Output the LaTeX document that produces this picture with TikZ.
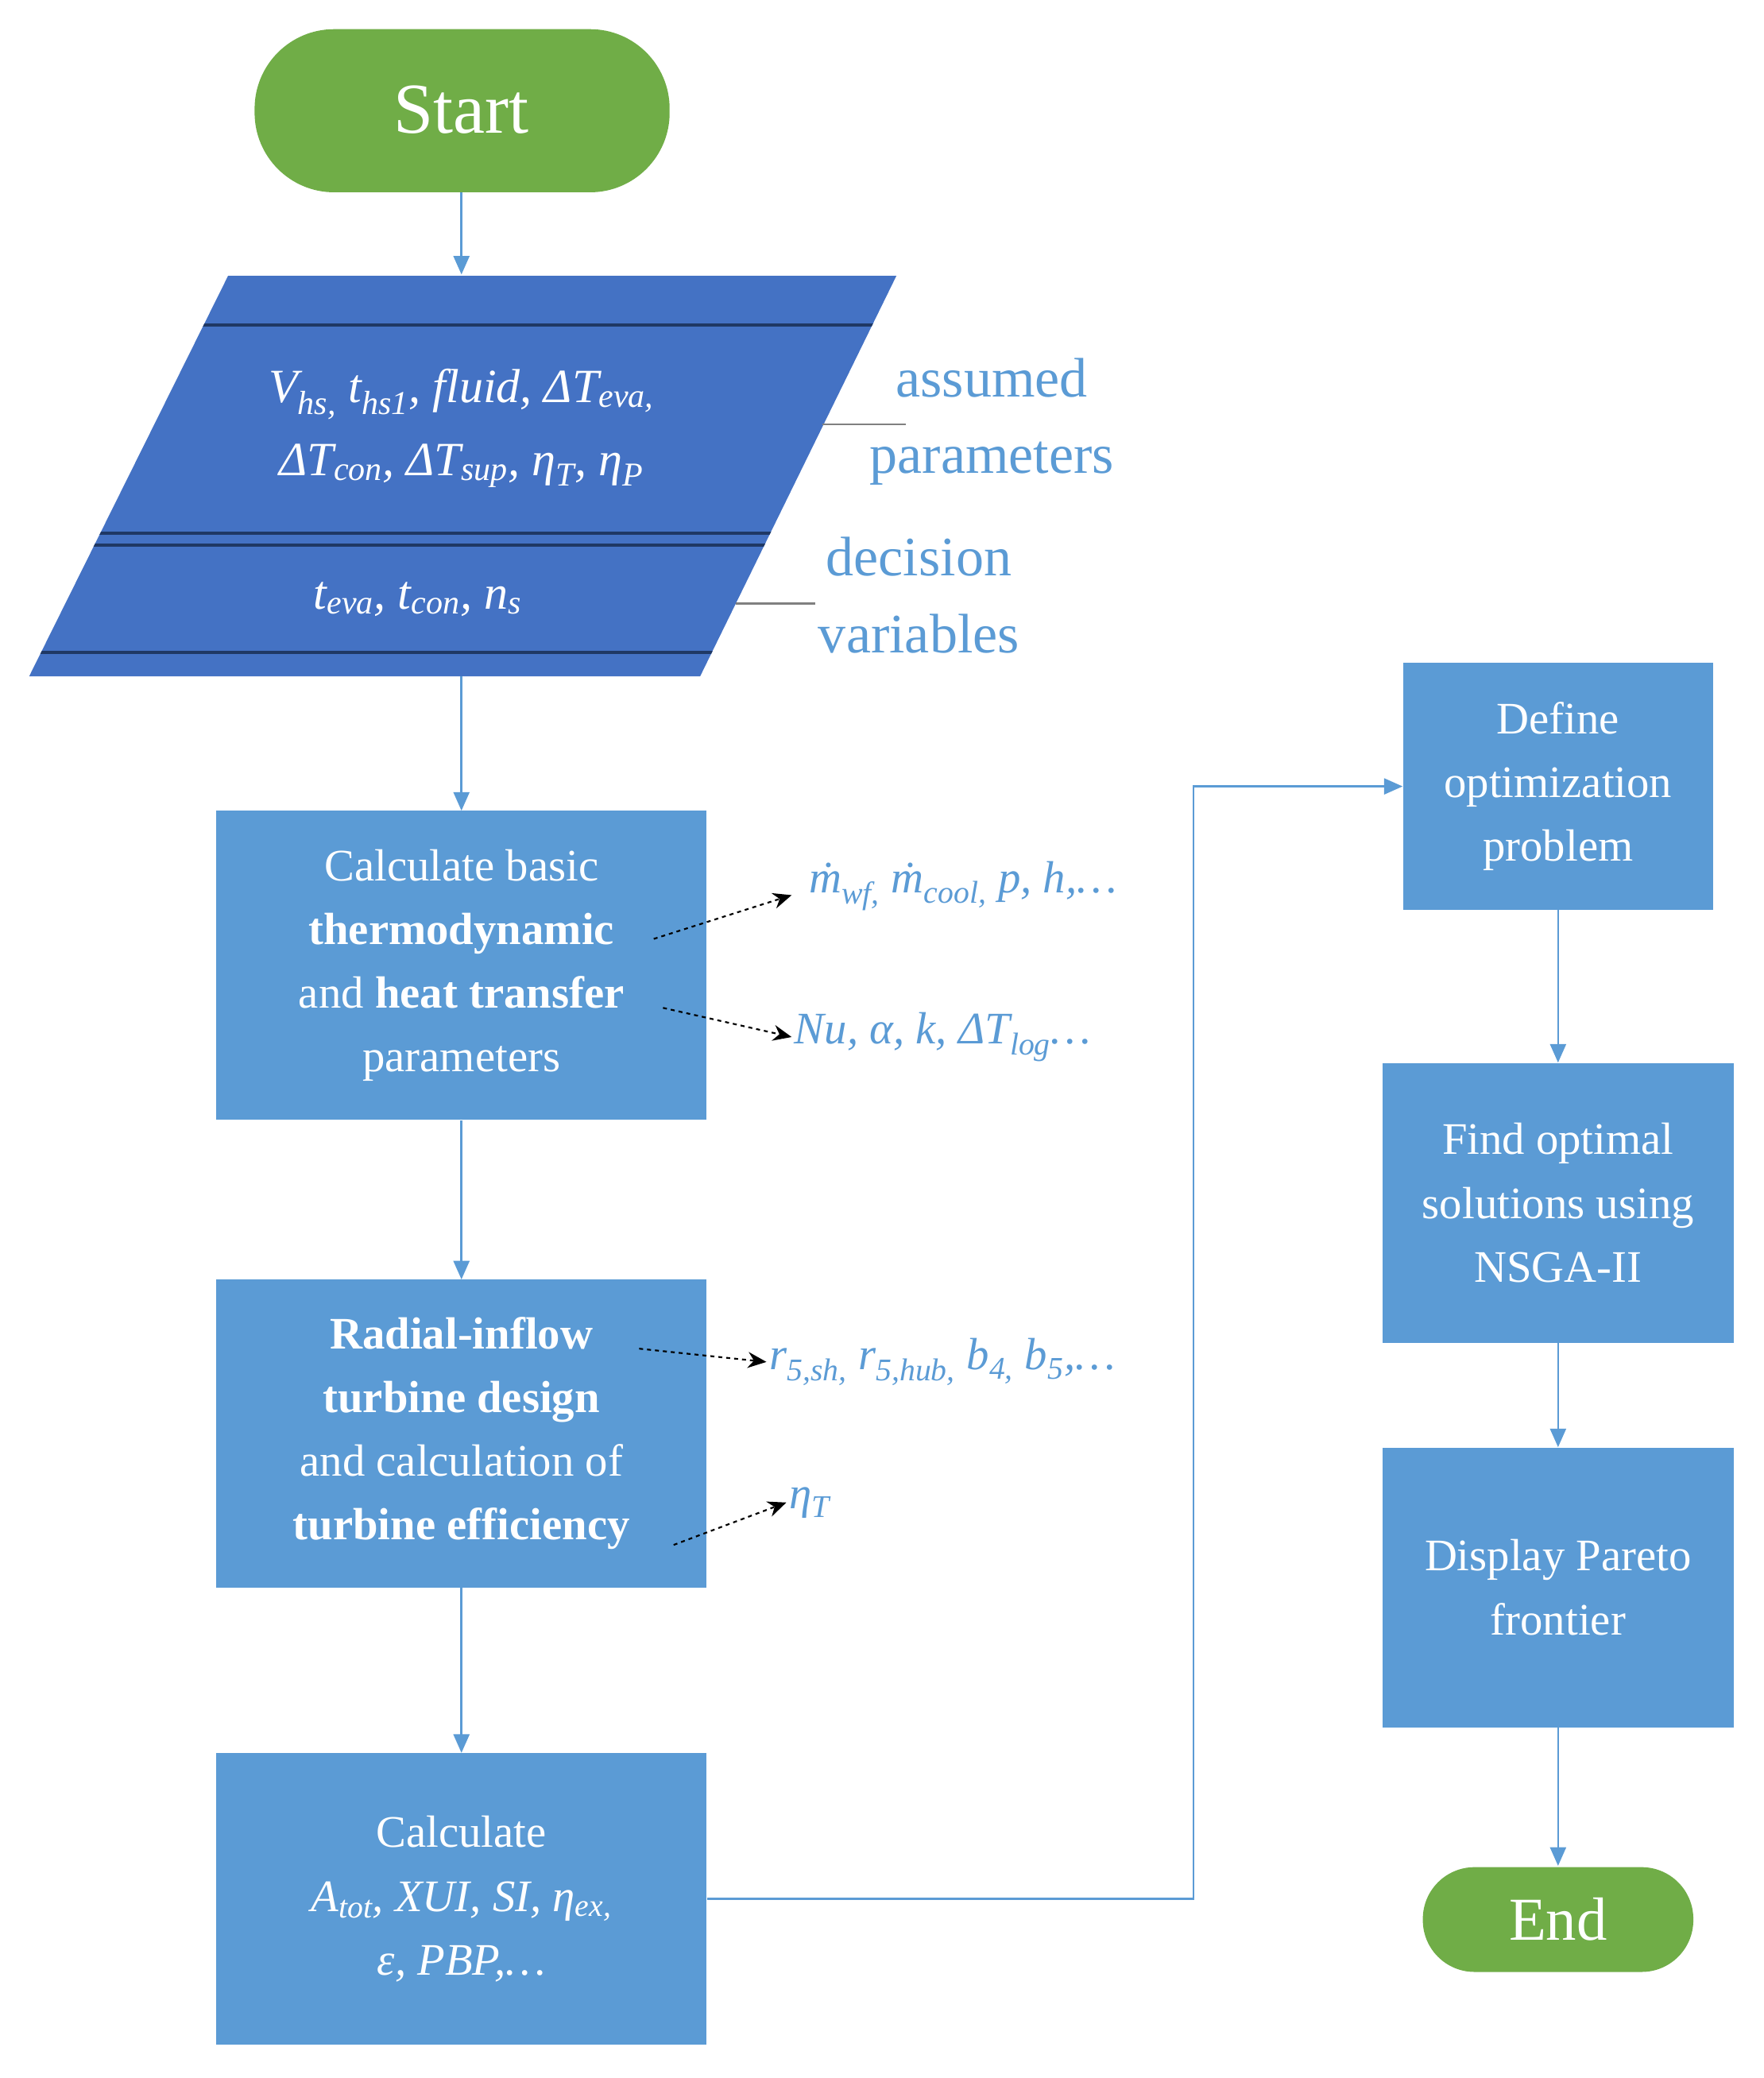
\documentclass[tikz,border=0pt]{standalone}
\usepackage{fontspec}
\setmainfont{Liberation Serif}
\usetikzlibrary{arrows.meta}
\newcommand{\sbs}[1]{\textsubscript{#1}}
\definecolor{gr}{HTML}{70AD47}
\definecolor{lb}{HTML}{5B9BD5}
\definecolor{db}{HTML}{4472C4}
\definecolor{nv}{HTML}{1F3864}
\definecolor{lt}{HTML}{5B9BD5}
\begin{document}
\begin{tikzpicture}[x=1pt,y=-1pt,
  box/.style={fill=lb,text=white,align=center,font=\fontsize{34}{48}\selectfont},
  flow/.style={lb,line width=1.5pt,-{Triangle[length=14pt,width=12pt]}},
  dsh/.style={black,dashed,line width=1.3pt,-{Stealth[length=14pt,width=12pt]}},
  lab/.style={text=lt,font=\fontsize{34}{40}\selectfont\itshape,anchor=west,inner sep=2pt},
  side/.style={text=lt,align=center,font=\fontsize{42}{58}\selectfont}]
\useasboundingbox (0,0) rectangle (1330,1567);
% start
\fill[gr,rounded corners=60pt] (192,22) rectangle (505,145);
\node[text=white,font=\fontsize{54}{60}\selectfont] (start) at (348,83) {Start};
% parallelogram
\coordinate (p1) at (172,208); \coordinate (p2) at (676,208);
\coordinate (p3) at (528,510); \coordinate (p4) at (22,510);
\fill[db] (p1)--(p2)--(p3)--(p4)--cycle;
\begin{scope}
\clip (p1)--(p2)--(p3)--(p4)--cycle;
\foreach \yy in {245,402,411,492} \draw[nv,line width=2pt] (0,\yy)--(700,\yy);
\end{scope}
\node[text=white,align=center,font=\fontsize{36}{55}\selectfont\itshape] (par) at (348,323)
 {V\sbs{hs,} t\sbs{hs1}, fluid, ΔT\sbs{eva,}\\ΔT\sbs{con}, ΔT\sbs{sup}, η\sbs{T}, η\sbs{P}};
\node[text=white,font=\fontsize{36}{44}\selectfont\itshape] (dec) at (315,452) {t\sbs{eva}, t\sbs{con}, n\sbs{s}};
\coordinate (a1) at (620,320); \coordinate (a2) at (683,320);
\draw[gray,line width=1.5pt] (a1)--(a2);
\coordinate (b1) at (555,455); \coordinate (b2) at (615,455);
\draw[gray,line width=1.5pt] (b1)--(b2);
\node[side] (ap) at (748,318) {assumed\\parameters};
\node[side] (dv) at (693,449) {decision\\variables};
% boxes
\node[box,minimum width=370pt,minimum height=233pt] (b1x) at (348,728)
 {Calculate basic\\\textbf{thermodynamic}\\and \textbf{heat transfer}\\parameters};
\node[box,minimum width=370pt,minimum height=232pt] (b2x) at (348,1081)
 {\textbf{Radial-inflow}\\\textbf{turbine design}\\and calculation of\\\textbf{turbine efficiency}};
\node[box,minimum width=370pt,minimum height=220pt] (b3x) at (348,1432)
 {Calculate\\\textit{A\sbs{tot}, XUI, SI, η\sbs{ex,}}\\\textit{ε, PBP,…}};
\node[box,minimum width=234pt,minimum height=186pt] (b4x) at (1175,593)
 {Define\\optimization\\problem};
\node[box,minimum width=265pt,minimum height=211pt] (b5x) at (1175,907)
 {Find optimal\\solutions using\\NSGA-II};
\node[box,minimum width=265pt,minimum height=211pt] (b6x) at (1175,1197)
 {Display Pareto\\frontier};
\fill[gr,rounded corners=39pt] (1073,1408) rectangle (1277,1487);
\node[text=white,font=\fontsize{46}{50}\selectfont] (end) at (1175,1447) {End};
% flow arrows
\coordinate (s0) at (348,145); \coordinate (pt) at (348,207); \coordinate (pb) at (348,510);
\draw[flow] (s0) -- (pt);
\draw[flow] (pb) -- (b1x.north);
\draw[flow] (b1x) -- (b2x);
\draw[flow] (b2x) -- (b3x);
\coordinate (t1) at (900,1432); \coordinate (t2) at (900,593);
\draw[flow] (b3x.east) -- (t1) -- (t2) -- (b4x.west);
\draw[flow] (b4x) -- (b5x);
\draw[flow] (b5x) -- (b6x);
\coordinate (et) at (1175,1407);
\draw[flow] (b6x.south) -- (et);
% labels
\node[lab] (l1) at (608,668) {ṁ\sbs{wf,} ṁ\sbs{cool,} p, h,…};
\node[lab] (l2) at (597,782) {Nu, α, k, ΔT\sbs{log}…};
\node[lab] (l3) at (578,1027) {r\sbs{5,sh,} r\sbs{5,hub,} b\sbs{4,} b\sbs{5},…};
\node[lab] (l4) at (593,1133) {η\sbs{T}};
\coordinate (s1) at (493,708); \coordinate (s2) at (500,760);
\coordinate (s3) at (482,1017); \coordinate (s4) at (508,1165);
\coordinate (e1) at (597,675);
\draw[dsh] (s1) -- (e1);
\draw[dsh] (s2) -- (l2.west);
\draw[dsh] (s3) -- (l3.west);
\draw[dsh] (s4) -- (l4.west);
\end{tikzpicture}
\end{document}
